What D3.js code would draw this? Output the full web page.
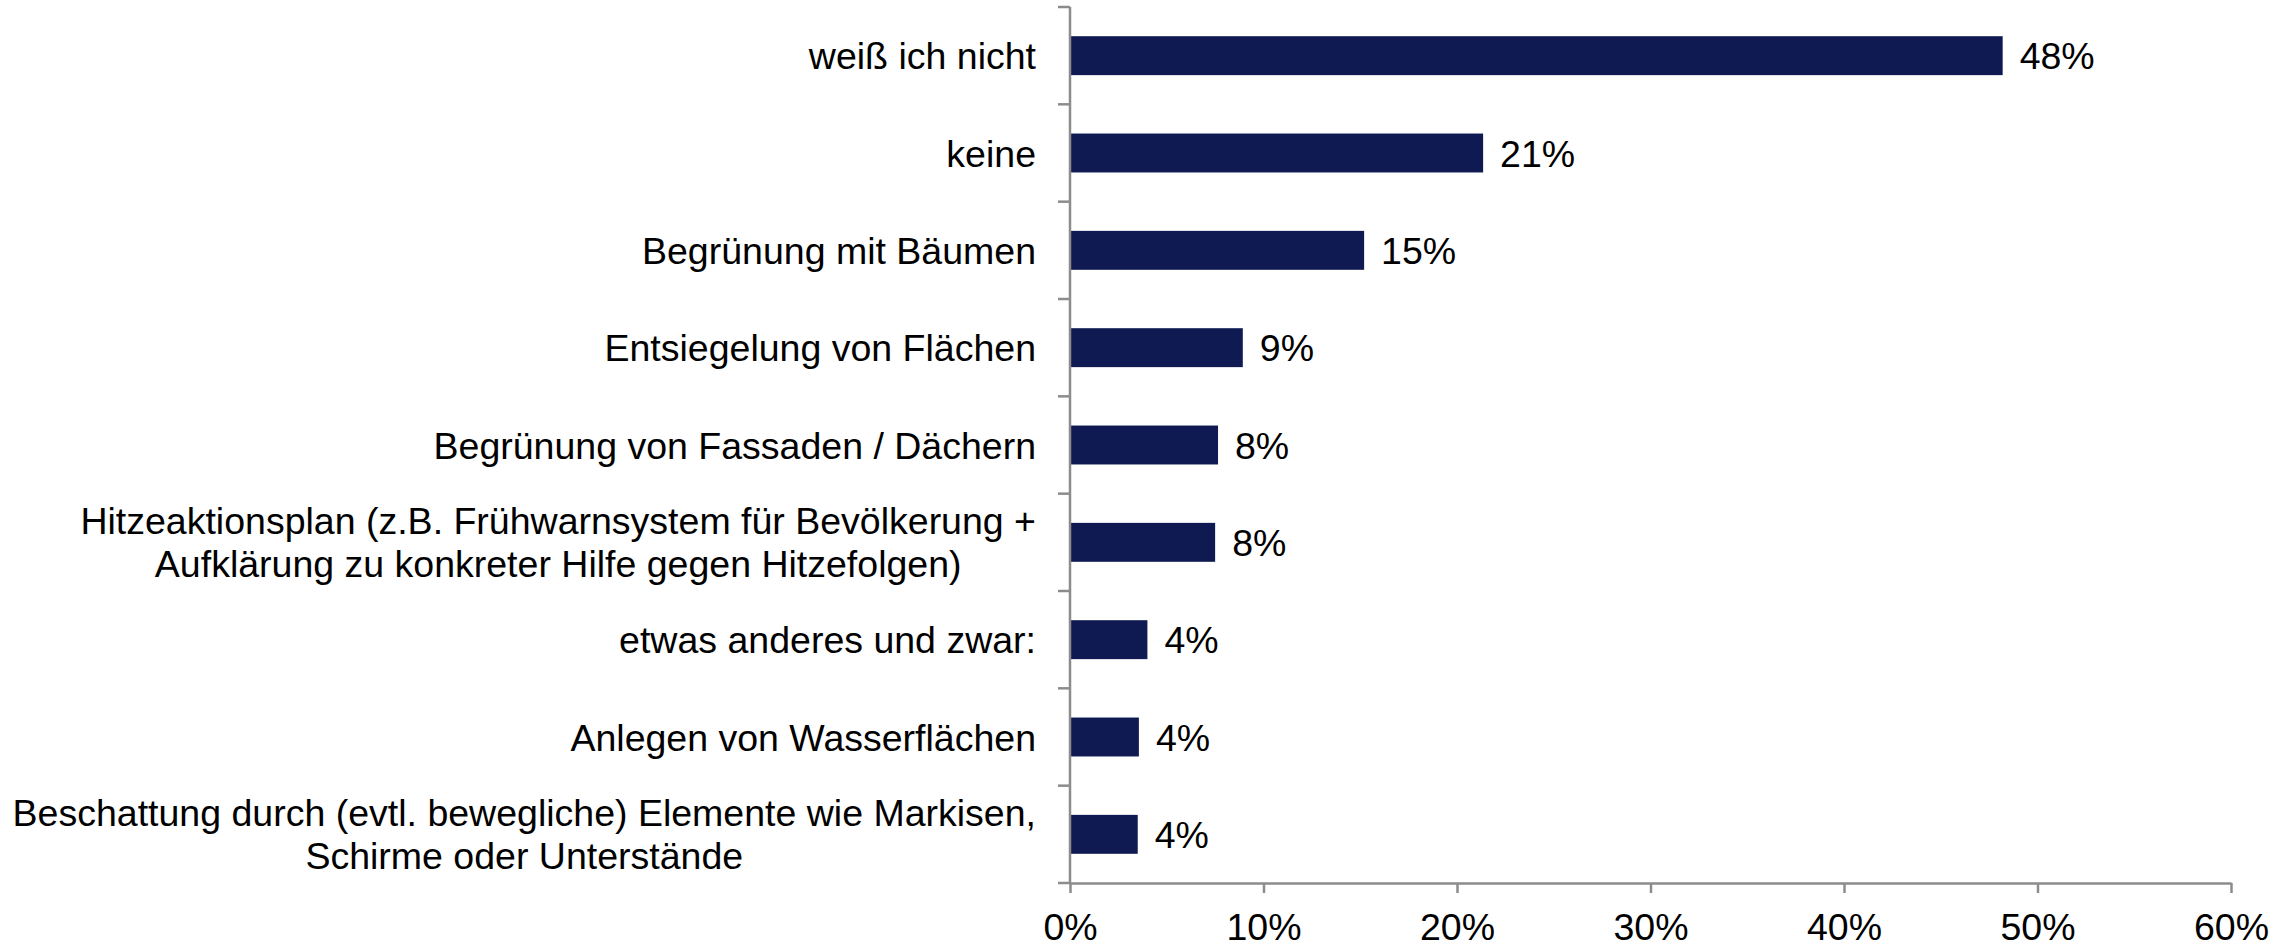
<!DOCTYPE html>
<html>
<head>
<meta charset="utf-8">
<script src="https://cdn.jsdelivr.net/npm/d3@7"></script>
<style>
  html, body { margin: 0; padding: 0; background: #fff; }
  svg { display: block; }
  text { font-family: "Liberation Sans", Arial, Helvetica, sans-serif; fill: #000; }
</style>
</head>
<body>
<svg id="chart" width="2295" height="943"></svg>
<script>
// ---- data ----
const categories = [
  "weiß ich nicht",
  "keine",
  "Begrünung mit Bäumen",
  "Entsiegelung von Flächen",
  "Begrünung von Fassaden / Dächern",
  "Hitzeaktionsplan (z.B. Frühwarnsystem für Bevölkerung +\nAufklärung zu konkreter Hilfe gegen Hitzefolgen)",
  "etwas anderes und zwar:",
  "Anlegen von Wasserflächen",
  "Beschattung durch (evtl. bewegliche) Elemente wie Markisen,\nSchirme oder Unterstände"
];
const values = [0.482, 0.2135, 0.152, 0.0893, 0.0765, 0.075, 0.040, 0.0356, 0.035];
const valueLabels = ["48%", "21%", "15%", "9%", "8%", "8%", "4%", "4%", "4%"];
const xTicks = [0, 0.1, 0.2, 0.3, 0.4, 0.5, 0.6];

// ---- layout ----
const svg = d3.select("#chart");
const plotLeft = 1070, plotRight = 2231, plotTop = 7, plotBottom = 883;
const fontSize = 37.5;
const axisColor = "#8c8c8c";
const barColor = "#0f1a52";

const x = d3.scaleLinear().domain([0, 0.6]).range([plotLeft, plotRight]);
const y = d3.scaleBand().domain(categories).range([plotTop, plotBottom])
  .paddingInner(0.6).paddingOuter(0.3);

// bars
svg.append("g").selectAll("rect").data(categories).join("rect")
  .attr("x", x(0))
  .attr("y", d => y(d))
  .attr("width", (d, i) => x(values[i]) - x(0))
  .attr("height", y.bandwidth())
  .attr("fill", barColor);

// value labels
svg.append("g").selectAll("text").data(categories).join("text")
  .attr("x", (d, i) => x(values[i]) + 17)
  .attr("y", d => y(d) + y.bandwidth() / 2)
  .attr("dy", "0.36em")
  .style("font-size", fontSize + "px")
  .text((d, i) => valueLabels[i]);

// y axis line & ticks at category boundaries
const yAxis = svg.append("g");
yAxis.append("line")
  .attr("x1", plotLeft).attr("x2", plotLeft).attr("y1", plotTop).attr("y2", plotBottom)
  .attr("stroke", axisColor).attr("stroke-width", 2.5);
const step = y.step();
yAxis.selectAll("line.tick").data(d3.range(categories.length + 1)).join("line")
  .attr("class", "tick")
  .attr("x1", plotLeft - 12).attr("x2", plotLeft)
  .attr("y1", i => plotTop + i * step).attr("y2", i => plotTop + i * step)
  .attr("stroke", axisColor).attr("stroke-width", 2.5);

// category labels
const rightEdge = 1036;
const lineH = 43;
const labels = svg.append("g");
categories.forEach(c => {
  const lines = c.split("\n");
  const cy = y(c) + y.bandwidth() / 2;
  const t = labels.append("text").style("font-size", fontSize + "px");
  if (lines.length === 1) {
    t.attr("x", rightEdge).attr("y", cy).attr("dy", "0.36em")
      .attr("text-anchor", "end").text(c);
  } else {
    const spans = lines.map(l => t.append("tspan").text(l));
    const widths = spans.map(s => s.node().getComputedTextLength());
    const maxW = d3.max(widths);
    const cx = rightEdge - maxW / 2;
    t.attr("text-anchor", "middle");
    spans.forEach((s, j) => {
      s.attr("x", cx)
       .attr("y", cy + (j - (lines.length - 1) / 2) * lineH)
       .attr("dy", "0.36em");
    });
  }
});

// x axis
const xAxis = svg.append("g")
  .attr("transform", `translate(0,${plotBottom})`)
  .call(d3.axisBottom(x).tickValues(xTicks).tickFormat(d3.format(".0%"))
    .tickSizeInner(10).tickSizeOuter(0).tickPadding(20.5));
xAxis.select(".domain").attr("stroke", axisColor).attr("stroke-width", 2.5);
xAxis.selectAll(".tick line").attr("stroke", axisColor).attr("stroke-width", 2.5);
xAxis.selectAll(".tick text")
  .style("font-size", fontSize + "px")
  .style("font-family", '"Liberation Sans", Arial, Helvetica, sans-serif')
  .attr("fill", "#000");
</script>
</body>
</html>
